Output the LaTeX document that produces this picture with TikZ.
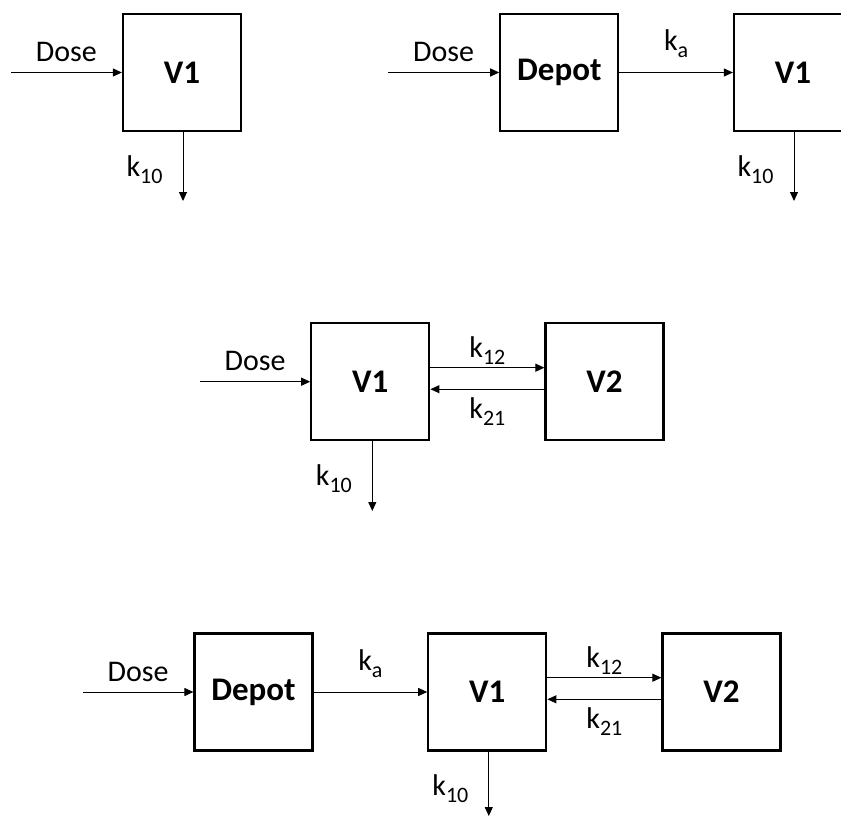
\documentclass[tikz,border=0pt]{standalone}
\usepackage{fontspec}
\setmainfont{Carlito}
\usetikzlibrary{arrows.meta}
\newcommand\lowsubs[1]{\raisebox{-0.24em}{\fontsize{22}{22}\selectfont #1}}
\tikzset{
  comp/.style={draw, line width=2.2pt, minimum width=118pt, minimum height=117pt, inner sep=0pt,
    font=\fontsize{33}{33}\selectfont\bfseries},
  arr/.style={line width=1pt, -{Triangle[length=9pt,width=8pt]}},
  lbl/.style={font=\fontsize{30}{30}\selectfont, inner sep=0pt},
}
\begin{document}
\begin{tikzpicture}[x=1pt,y=-1pt]
\useasboundingbox (0,0) rectangle (841,816);
\clip (0,0) rectangle (841,816);
% Panel 1
\node[comp] (A1) at (182,72.5) {V1};
\coordinate (A1in) at (11,72.5);
\coordinate (A1out) at (183,201);
\draw[arr] (A1in) -- (A1.west) node[lbl, midway, anchor=base, yshift=11pt] {Dose};
\draw[arr] (A1.south -| A1out) -- (A1out) node[lbl, at start, anchor=base east, xshift=-20pt, yshift=-44pt] {k\lowsubs{10}};
% Panel 2
\node[comp] (B1) at (559.3,72.5) {Depot};
\node[comp] (B2) at (793,72.5) {V1};
\coordinate (B1in) at (388,72.5);
\coordinate (B2out) at (794,201);
\draw[arr] (B1in) -- (B1.west) node[lbl, midway, anchor=base, yshift=11pt] {Dose};
\draw[arr] (B1.east) -- (B2.west) node[lbl, midway, anchor=base, yshift=22pt] {k\lowsubs{a}};
\draw[arr] (B2.south -| B2out) -- (B2out) node[lbl, at start, anchor=base east, xshift=-20pt, yshift=-44pt] {k\lowsubs{10}};
% Panel 3
\node[comp] (C1) at (370.3,381.7) {V1};
\node[comp] (C2) at (604.5,381.7) {V2};
\coordinate (C1in) at (200,381.7);
\coordinate (C1out) at (372.3,511);
\draw[arr] (C1in) -- (C1.west) node[lbl, midway, anchor=base, yshift=11pt] {Dose};
\draw[arr] ([yshift=14pt]C1.east) -- ([yshift=14pt]C2.west) node[lbl, midway, anchor=base, yshift=10.6pt] {k\lowsubs{12}};
\draw[arr] ([yshift=-7.5pt]C2.west) -- ([yshift=-7.5pt]C1.east) node[lbl, midway, anchor=base, yshift=-29pt] {k\lowsubs{21}};
\draw[arr] (C1.south -| C1out) -- (C1out) node[lbl, at start, anchor=base east, xshift=-20pt, yshift=-44pt] {k\lowsubs{10}};
% Panel 4
\node[comp] (D0) at (253.5,692) {Depot};
\node[comp] (D1) at (487.3,692) {V1};
\node[comp] (D2) at (721.5,692) {V2};
\coordinate (D0in) at (83,692);
\coordinate (D1out) at (488.8,816);
\draw[arr] (D0in) -- (D0.west) node[lbl, midway, anchor=base, yshift=11pt] {Dose};
\draw[arr] (D0.east) -- (D1.west) node[lbl, midway, anchor=base, yshift=22pt] {k\lowsubs{a}};
\draw[arr] ([yshift=14.3pt]D1.east) -- ([yshift=14.3pt]D2.west) node[lbl, midway, anchor=base, yshift=10.6pt] {k\lowsubs{12}};
\draw[arr] ([yshift=-7.3pt]D2.west) -- ([yshift=-7.3pt]D1.east) node[lbl, midway, anchor=base, yshift=-29pt] {k\lowsubs{21}};
\draw[arr] (D1.south -| D1out) -- (D1out) node[lbl, at start, anchor=base east, xshift=-20pt, yshift=-44pt] {k\lowsubs{10}};
\end{tikzpicture}
\end{document}
